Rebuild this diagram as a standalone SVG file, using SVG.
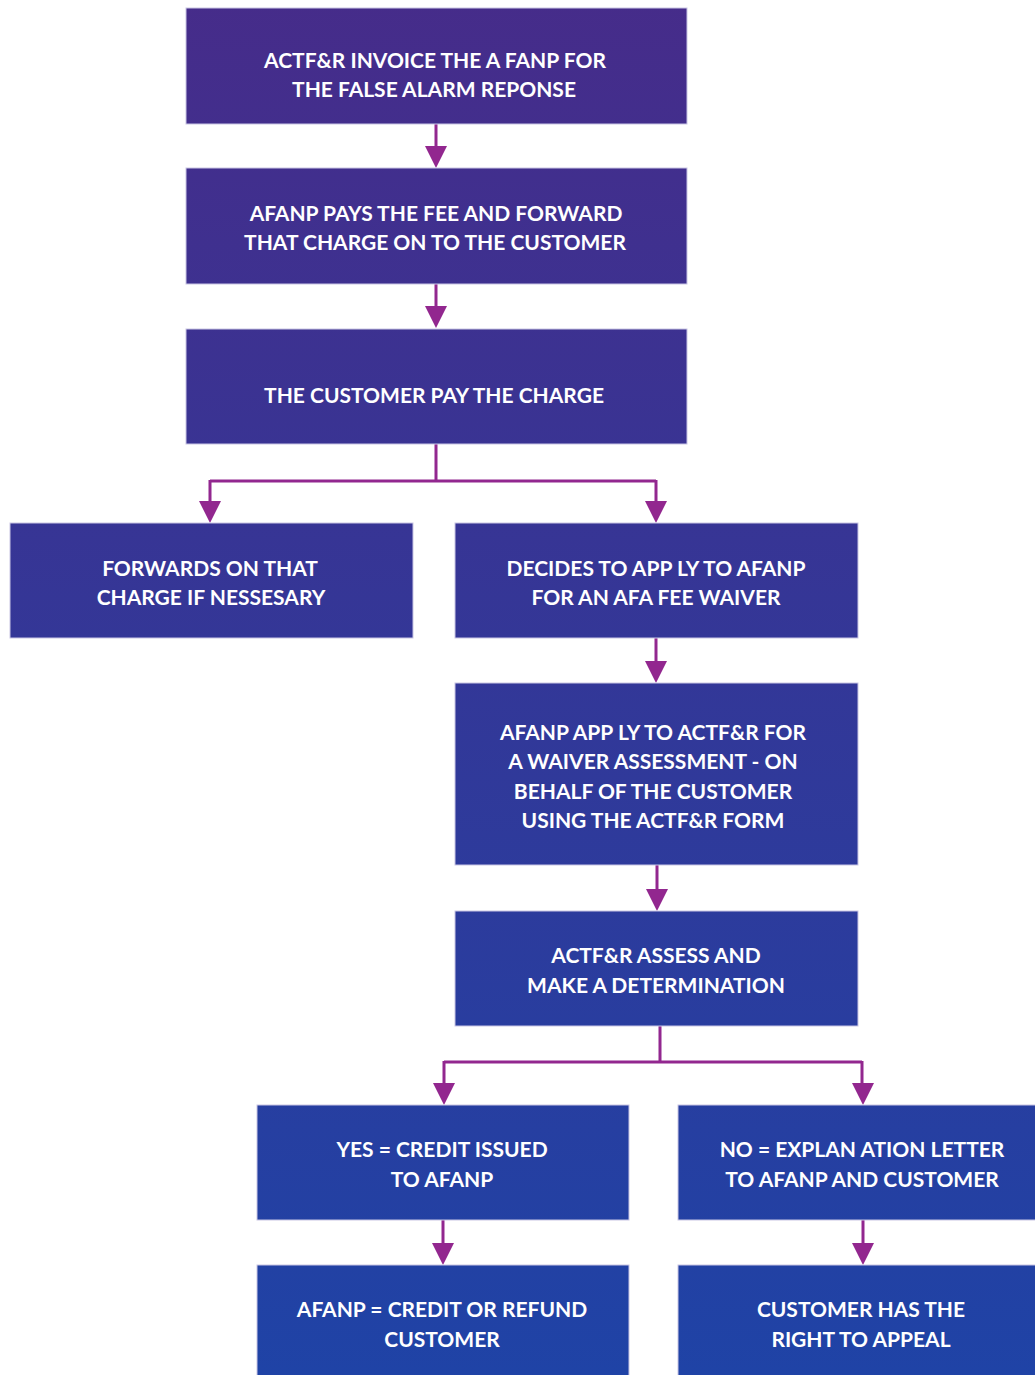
<svg xmlns="http://www.w3.org/2000/svg" width="1035" height="1375" viewBox="0 0 1035 1375">
<defs>
<linearGradient id="bg" gradientUnits="userSpaceOnUse" x1="0" y1="0" x2="0" y2="1375">
<stop offset="0" stop-color="#462c8a"/>
<stop offset="1" stop-color="#1f43a6"/>
</linearGradient>
</defs>
<style>
.box{fill:url(#bg);stroke:#c9c6e4;stroke-width:1}
.t{font-family:Lato,"Open Sans",sans-serif;font-weight:700;font-size:21px;fill:#ffffff;text-anchor:middle}
.c{fill:none;stroke:#92278f;stroke-width:3}
.h{fill:#92278f}
</style>
<rect width="1035" height="1375" fill="#ffffff"/>
<g id="connectors">
<path class="c" d="M436,124 V146" />
<path class="h" d="M425,146 L447,146 L436,168 Z"/>
<path class="c" d="M436,284 V306" />
<path class="h" d="M425,306 L447,306 L436,328 Z"/>
<path class="c" d="M436,444 V481 M210,481 H656 M210,480 V501 M656,480 V501" />
<path class="h" d="M199,501 L221,501 L210,523 Z"/>
<path class="h" d="M645,501 L667,501 L656,523 Z"/>
<path class="c" d="M656,638 V661" />
<path class="h" d="M645,661 L667,661 L656,683 Z"/>
<path class="c" d="M657,865 V889" />
<path class="h" d="M646,889 L668,889 L657,911 Z"/>
<path class="c" d="M660,1026 V1062 M444,1062 H862 M444,1061 V1083 M862,1061 V1083" />
<path class="h" d="M433,1083 L455,1083 L444,1105 Z"/>
<path class="h" d="M852,1083 L874,1083 L863,1105 Z"/>
<path class="c" d="M443,1220 V1243" />
<path class="h" d="M432,1243 L454,1243 L443,1265 Z"/>
<path class="c" d="M863,1220 V1243" />
<path class="h" d="M852,1243 L874,1243 L863,1265 Z"/>
</g>
<g id="n1"><rect class="box" x="186" y="8" width="501" height="116"/>
<text class="t" x="435" y="68">ACTF&amp;R INVOICE THE A FANP FOR</text>
<text class="t" x="434" y="97">THE FALSE ALARM REPONSE</text></g>
<g id="n2"><rect class="box" x="186" y="168" width="501" height="116"/>
<text class="t" x="436" y="221">AFANP PAYS THE FEE AND FORWARD</text>
<text class="t" x="435" y="250">THAT CHARGE ON TO THE CUSTOMER</text></g>
<g id="n3"><rect class="box" x="186" y="329" width="501" height="115"/>
<text class="t" x="434" y="403">THE CUSTOMER PAY THE CHARGE</text></g>
<g id="n4"><rect class="box" x="10" y="523" width="403" height="115"/>
<text class="t" x="210" y="576">FORWARDS ON THAT</text>
<text class="t" x="211" y="605">CHARGE IF NESSESARY</text></g>
<g id="n5"><rect class="box" x="455" y="523" width="403" height="115"/>
<text class="t" x="656" y="576">DECIDES TO APP LY TO AFANP</text>
<text class="t" x="656" y="605">FOR AN AFA FEE WAIVER</text></g>
<g id="n6"><rect class="box" x="455" y="683" width="403" height="182"/>
<text class="t" x="653" y="740">AFANP APP LY TO ACTF&amp;R FOR</text>
<text class="t" x="653" y="769">A WAIVER ASSESSMENT - ON</text>
<text class="t" x="653" y="799">BEHALF OF THE CUSTOMER</text>
<text class="t" x="653" y="828">USING THE ACTF&amp;R FORM</text></g>
<g id="n7"><rect class="box" x="455" y="911" width="403" height="115"/>
<text class="t" x="656" y="963">ACTF&amp;R ASSESS AND</text>
<text class="t" x="656" y="993">MAKE A DETERMINATION</text></g>
<g id="n8"><rect class="box" x="257" y="1105" width="372" height="115"/>
<text class="t" x="442" y="1157">YES = CREDIT ISSUED</text>
<text class="t" x="442" y="1187">TO AFANP</text></g>
<g id="n9"><rect class="box" x="678" y="1105" width="362" height="115"/>
<text class="t" x="862" y="1157">NO = EXPLAN ATION LETTER</text>
<text class="t" x="862" y="1187">TO AFANP AND CUSTOMER</text></g>
<g id="n10"><rect class="box" x="257" y="1265" width="372" height="115"/>
<text class="t" x="442" y="1317">AFANP = CREDIT OR REFUND</text>
<text class="t" x="442" y="1347">CUSTOMER</text></g>
<g id="n11"><rect class="box" x="678" y="1265" width="362" height="115"/>
<text class="t" x="861" y="1317">CUSTOMER HAS THE</text>
<text class="t" x="861" y="1347">RIGHT TO APPEAL</text></g>
</svg>
